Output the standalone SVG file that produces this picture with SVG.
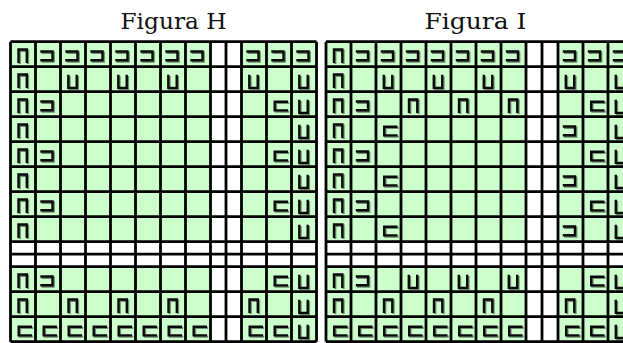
<svg xmlns="http://www.w3.org/2000/svg" xmlns:xlink="http://www.w3.org/1999/xlink" width="623" height="343" viewBox="0 0 623 343">
<style>
.title{font-family:"DejaVu Serif","Liberation Serif",serif;font-size:23px;fill:#111;text-anchor:middle}
.green{fill:#ccffcc}
.white{fill:#ffffff}
.gl{fill:none;stroke:#000;stroke-width:2.8}
.sh{fill:none;stroke:#000;stroke-opacity:0.45;stroke-width:2.4;stroke-linejoin:miter}
.fg{fill:none;stroke:#0a0a0a;stroke-width:2.4;stroke-linejoin:miter}
</style>
<defs>
<g id="cap"><path class="sh" transform="translate(1.2,1.2)" d="M8,21.2 V7.8 H16.3 V21.2"/><path class="fg" d="M8,21.2 V7.8 H16.3 V21.2"/></g>
<g id="cup"><path class="sh" transform="translate(1.2,1.2)" d="M7.8,8 V21.2 H16.2 V8"/><path class="fg" d="M7.8,8 V21.2 H16.2 V8"/></g>
<g id="rc"><path class="sh" transform="translate(1.2,1.2)" d="M4.8,9.8 H17 V18.6 H4.8"/><path class="fg" d="M4.8,9.8 H17 V18.6 H4.8"/></g>
<g id="lc"><path class="sh" transform="translate(1.2,1.2)" d="M21.5,10 H8.2 V18.7 H21.5"/><path class="fg" d="M21.5,10 H8.2 V18.7 H21.5"/></g>
</defs>
<rect width="623" height="343" fill="#fff"/>
<text class="title" x="173.5" y="29" textLength="106" lengthAdjust="spacingAndGlyphs">Figura H</text>
<text class="title" x="475.5" y="29" textLength="102" lengthAdjust="spacingAndGlyphs">Figura I</text>

<g id="figura-h" transform="translate(10.5,41.7)">
<rect class="green" x="0" y="0" width="306" height="300"/>
<rect class="white" x="200" y="0" width="31" height="300"/>
<rect class="white" x="0" y="200" width="306" height="25"/>
<g id="h-glyphs">
<use href="#cap" x="0" y="0"/><use href="#rc" x="25" y="0"/><use href="#rc" x="50" y="0"/><use href="#rc" x="75" y="0"/><use href="#rc" x="100" y="0"/><use href="#rc" x="125" y="0"/><use href="#rc" x="150" y="0"/><use href="#rc" x="175" y="0"/><use href="#rc" x="231" y="0"/><use href="#rc" x="256" y="0"/><use href="#rc" x="281" y="0"/>
<use href="#cap" x="0" y="25"/><use href="#cup" x="50" y="25"/><use href="#cup" x="100" y="25"/><use href="#cup" x="150" y="25"/><use href="#cup" x="231" y="25"/><use href="#cup" x="281" y="25"/>
<use href="#cap" x="0" y="50"/><use href="#rc" x="25" y="50"/><use href="#lc" x="256" y="50"/><use href="#cup" x="281" y="50"/>
<use href="#cap" x="0" y="75"/><use href="#cup" x="281" y="75"/>
<use href="#cap" x="0" y="100"/><use href="#rc" x="25" y="100"/><use href="#lc" x="256" y="100"/><use href="#cup" x="281" y="100"/>
<use href="#cap" x="0" y="125"/><use href="#cup" x="281" y="125"/>
<use href="#cap" x="0" y="150"/><use href="#rc" x="25" y="150"/><use href="#lc" x="256" y="150"/><use href="#cup" x="281" y="150"/>
<use href="#cap" x="0" y="175"/><use href="#cup" x="281" y="175"/>
<use href="#cap" x="0" y="225"/><use href="#rc" x="25" y="225"/><use href="#lc" x="256" y="225"/><use href="#cup" x="281" y="225"/>
<use href="#cap" x="0" y="250"/><use href="#cap" x="50" y="250"/><use href="#cap" x="100" y="250"/><use href="#cap" x="150" y="250"/><use href="#cap" x="231" y="250"/><use href="#cup" x="281" y="250"/>
<use href="#lc" x="0" y="275"/><use href="#lc" x="25" y="275"/><use href="#lc" x="50" y="275"/><use href="#lc" x="75" y="275"/><use href="#lc" x="100" y="275"/><use href="#lc" x="125" y="275"/><use href="#lc" x="150" y="275"/><use href="#lc" x="175" y="275"/><use href="#lc" x="231" y="275"/><use href="#lc" x="256" y="275"/><use href="#cup" x="281" y="275"/>
</g>
<path class="gl" d="M0,0V300M25,0V300M50,0V300M75,0V300M100,0V300M125,0V300M150,0V300M175,0V300M200,0V300M215.5,0V300M231,0V300M256,0V300M281,0V300M306,0V300M0,0H306M0,25H306M0,50H306M0,75H306M0,100H306M0,125H306M0,150H306M0,175H306M0,200H306M0,212.5H306M0,225H306M0,250H306M0,275H306M0,300H306"/>
</g>

<g id="figura-i" transform="translate(326,41.7)">
<rect class="green" x="0" y="0" width="307" height="300"/>
<rect class="white" x="200" y="0" width="32" height="300"/>
<rect class="white" x="0" y="200" width="307" height="25"/>
<g id="i-glyphs">
<use href="#cap" x="0" y="0"/><use href="#rc" x="25" y="0"/><use href="#rc" x="50" y="0"/><use href="#rc" x="75" y="0"/><use href="#rc" x="100" y="0"/><use href="#rc" x="125" y="0"/><use href="#rc" x="150" y="0"/><use href="#rc" x="175" y="0"/><use href="#rc" x="232" y="0"/><use href="#rc" x="257" y="0"/><use href="#rc" x="282" y="0"/>
<use href="#cap" x="0" y="25"/><use href="#cup" x="50" y="25"/><use href="#cup" x="100" y="25"/><use href="#cup" x="150" y="25"/><use href="#cup" x="232" y="25"/><use href="#cup" x="282" y="25"/>
<use href="#cap" x="0" y="50"/><use href="#rc" x="25" y="50"/><use href="#cap" x="75" y="50"/><use href="#cap" x="125" y="50"/><use href="#cap" x="175" y="50"/><use href="#lc" x="257" y="50"/><use href="#cup" x="282" y="50"/>
<use href="#cap" x="0" y="75"/><use href="#lc" x="50" y="75"/><use href="#rc" x="232" y="75"/><use href="#cup" x="282" y="75"/>
<use href="#cap" x="0" y="100"/><use href="#rc" x="25" y="100"/><use href="#lc" x="257" y="100"/><use href="#cup" x="282" y="100"/>
<use href="#cap" x="0" y="125"/><use href="#lc" x="50" y="125"/><use href="#rc" x="232" y="125"/><use href="#cup" x="282" y="125"/>
<use href="#cap" x="0" y="150"/><use href="#rc" x="25" y="150"/><use href="#lc" x="257" y="150"/><use href="#cup" x="282" y="150"/>
<use href="#cap" x="0" y="175"/><use href="#lc" x="50" y="175"/><use href="#rc" x="232" y="175"/><use href="#cup" x="282" y="175"/>
<use href="#cap" x="0" y="225"/><use href="#rc" x="25" y="225"/><use href="#cup" x="75" y="225"/><use href="#cup" x="125" y="225"/><use href="#cup" x="175" y="225"/><use href="#lc" x="257" y="225"/><use href="#cup" x="282" y="225"/>
<use href="#cap" x="0" y="250"/><use href="#cap" x="50" y="250"/><use href="#cap" x="100" y="250"/><use href="#cap" x="150" y="250"/><use href="#cap" x="232" y="250"/><use href="#cup" x="282" y="250"/>
<use href="#lc" x="0" y="275"/><use href="#lc" x="25" y="275"/><use href="#lc" x="50" y="275"/><use href="#lc" x="75" y="275"/><use href="#lc" x="100" y="275"/><use href="#lc" x="125" y="275"/><use href="#lc" x="150" y="275"/><use href="#lc" x="175" y="275"/><use href="#lc" x="232" y="275"/><use href="#lc" x="257" y="275"/><use href="#cup" x="282" y="275"/>
</g>
<path class="gl" d="M0,0V300M25,0V300M50,0V300M75,0V300M100,0V300M125,0V300M150,0V300M175,0V300M200,0V300M216,0V300M232,0V300M257,0V300M282,0V300M307,0V300M0,0H307M0,25H307M0,50H307M0,75H307M0,100H307M0,125H307M0,150H307M0,175H307M0,200H307M0,212.5H307M0,225H307M0,250H307M0,275H307M0,300H307"/>
</g>
</svg>
